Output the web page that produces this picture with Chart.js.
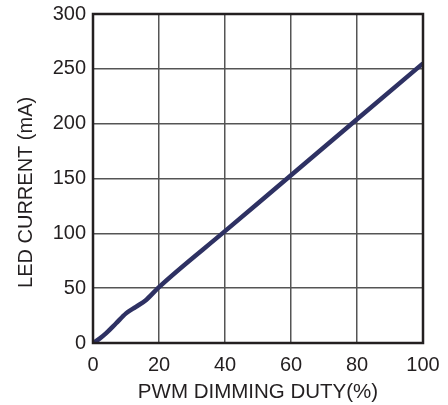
<!DOCTYPE html>
<html>
<head>
<meta charset="utf-8">
<script src="https://cdn.jsdelivr.net/npm/chart.js@4/dist/chart.umd.min.js"></script>
<style>
    html, body { margin: 0; padding: 0; background: #fff; }
    #wrap { width: 448px; height: 405px; }
</style>
</head>
<body>
<div id="wrap"><canvas id="ledChart" width="448" height="405"></canvas></div>
<script>
const dutyPercent = [0, 2, 4, 7, 10, 13, 16, 20, 40, 60, 80, 100];
const ledCurrent = [0, 4, 9, 18, 27, 33, 39, 51, 102, 153, 204, 255];
const xTicks = [0, 20, 40, 60, 80, 100];
const yTicks = [0, 50, 100, 150, 200, 250, 300];

const fontFamily = '"Liberation Sans", Arial, sans-serif';
const textColor = '#231f20';

// frame around the plot area (top and right edges are not axis borders)
const frame = {
    id: 'frame',
    afterDraw: (chart) => {
        const { ctx, chartArea } = chart;
        ctx.save();
        ctx.strokeStyle = '#231f20';
        ctx.lineWidth = 2.5;
        ctx.strokeRect(chartArea.left, chartArea.top, chartArea.right - chartArea.left, chartArea.bottom - chartArea.top);
        ctx.restore();
    },
};

new Chart(document.getElementById('ledChart'), {
    type: 'line',
    data: {
        datasets: [
            {
                data: dutyPercent.map((x, i) => ({ x, y: ledCurrent[i] })),
                borderColor: '#2e3163',
                borderWidth: 4.5,
                pointRadius: 0,
                cubicInterpolationMode: 'monotone',
                clip: 0,
            },
        ],
    },
    options: {
        responsive: false,
        animation: false,
        layout: { padding: { top: 14, right: 25, left: 0, bottom: 0 } },
        plugins: { legend: { display: false }, tooltip: { enabled: false } },
        scales: {
            x: {
                type: 'linear',
                min: 0,
                max: 100,
                afterBuildTicks: (axis) => { axis.ticks = xTicks.map((v) => ({ value: v })); },
                afterFit: (axis) => {
                    axis.height = 62;
                    axis.paddingLeft = 0;
                    axis.paddingRight = 0;
                },
                grid: { color: '#555', lineWidth: 1.5, drawTicks: false },
                border: { display: false },
                ticks: { color: textColor, padding: 10, font: { family: fontFamily, size: 20 }, maxRotation: 0 },
                title: {
                    display: true,
                    text: 'PWM DIMMING DUTY(%)',
                    color: textColor,
                    font: { family: fontFamily, size: 20.5 },
                    padding: { top: 0, bottom: 0.5 },
                },
            },
            y: {
                type: 'linear',
                min: 0,
                max: 300,
                afterBuildTicks: (axis) => { axis.ticks = yTicks.map((v) => ({ value: v })); },
                afterFit: (axis) => {
                    axis.width = 93;
                    axis.paddingTop = 0;
                    axis.paddingBottom = 0;
                },
                grid: { color: '#555', lineWidth: 1.5, drawTicks: false },
                border: { display: false },
                ticks: { color: textColor, padding: 7, font: { family: fontFamily, size: 20 } },
                title: {
                    display: true,
                    // trailing spaces nudge the rotated label down, as in the original
                    text: 'LED CURRENT (mA)     ',
                    color: textColor,
                    font: { family: fontFamily, size: 20 },
                    padding: { top: 14.5, bottom: 0 },
                },
            },
        },
    },
    plugins: [frame],
});
</script>
</body>
</html>
